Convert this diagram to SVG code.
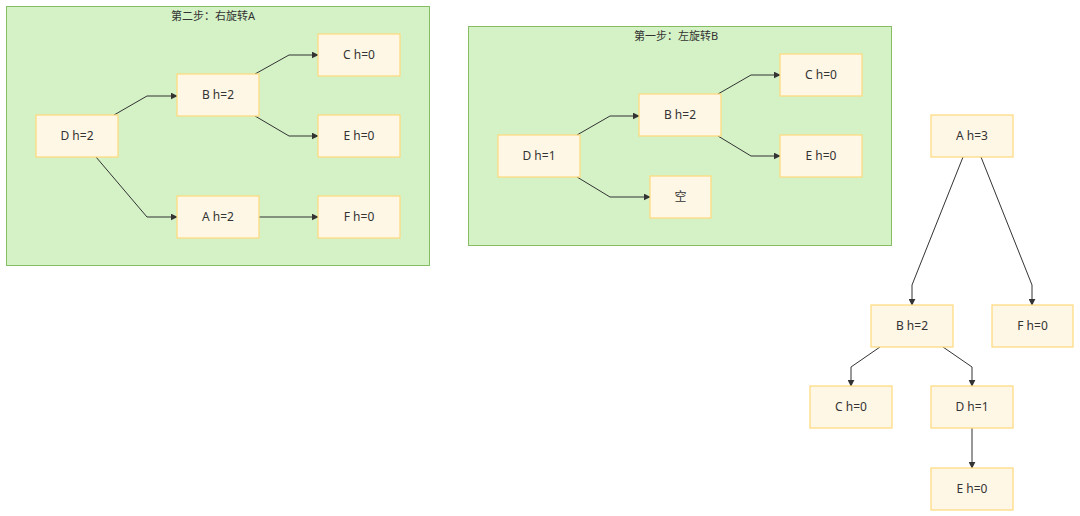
<svg xmlns="http://www.w3.org/2000/svg" width="1080" height="516" viewBox="0 0 1080 516">
<style>
.cl{fill:#d4f2c6;stroke:#86bd63;stroke-width:1}
.nd rect{fill:#fff7e6;stroke:#ffd97a;stroke-width:1.2}
text{font-family:"Noto Sans","Noto Sans CJK SC",sans-serif;fill:#333;text-anchor:middle}
.nd text{font-size:12px}
.tt{font-size:11px}
.e{fill:none;stroke:#333;stroke-width:1;marker-end:url(#ar)}
</style>
<defs>
<marker id="ar" viewBox="0 0 10 10" refX="9" refY="5" markerWidth="7" markerHeight="7" orient="auto" markerUnits="userSpaceOnUse">
<path d="M0,0 L10,5 L0,10 z" fill="#333"/>
</marker>
</defs>
<rect width="1080" height="516" fill="#fff"/>
<g id="cluster2">
<rect class="cl" x="6.5" y="6.5" width="423" height="259"/>
<text class="tt" x="213" y="20">第二步：右旋转A</text>
</g>
<g id="cluster1">
<rect class="cl" x="468.5" y="26.5" width="423" height="219"/>
<text class="tt" x="676" y="40">第一步：左旋转B</text>
</g>
<g id="edges">
<path class="e" d="M114,115 L147,96 L177,96"/>
<path class="e" d="M255,74 L289,55 L318,55"/>
<path class="e" d="M255,116 L289,136 L318,136"/>
<path class="e" d="M96,157 L147,217 L177,217"/>
<path class="e" d="M259,217 L318,217"/>
<path class="e" d="M577,135 L610,116 L639,116"/>
<path class="e" d="M718,94 L751,75 L780,75"/>
<path class="e" d="M718,136 L751,156 L780,156"/>
<path class="e" d="M577,177 L610,197 L650,197"/>
<path class="e" d="M963,157 L912,285 L912,305"/>
<path class="e" d="M981,157 L1032,285 L1032,305"/>
<path class="e" d="M880,347 L851,367 L851,386"/>
<path class="e" d="M943,347 L972,367 L972,386"/>
<path class="e" d="M972,428 L972,468"/>
</g>
<g id="s2_D" class="nd"><rect x="36" y="115" width="82" height="42"/><text x="77" y="140">D h=2</text></g>
<g id="s2_B" class="nd"><rect x="177" y="74" width="82" height="42"/><text x="218" y="99">B h=2</text></g>
<g id="s2_C" class="nd"><rect x="318" y="34" width="82" height="42"/><text x="359" y="59">C h=0</text></g>
<g id="s2_E" class="nd"><rect x="318" y="115" width="82" height="42"/><text x="359" y="140">E h=0</text></g>
<g id="s2_A" class="nd"><rect x="177" y="196" width="82" height="42"/><text x="218" y="221">A h=2</text></g>
<g id="s2_F" class="nd"><rect x="318" y="196" width="82" height="42"/><text x="359" y="221">F h=0</text></g>
<g id="s1_D" class="nd"><rect x="498" y="135" width="82" height="42"/><text x="539" y="160">D h=1</text></g>
<g id="s1_B" class="nd"><rect x="639" y="94" width="82" height="42"/><text x="680" y="119">B h=2</text></g>
<g id="s1_C" class="nd"><rect x="780" y="54" width="82" height="42"/><text x="821" y="79">C h=0</text></g>
<g id="s1_E" class="nd"><rect x="780" y="135" width="82" height="42"/><text x="821" y="160">E h=0</text></g>
<g id="s1_null" class="nd"><rect x="650" y="176" width="61" height="42"/><text x="680.5" y="201">空</text></g>
<g id="A" class="nd"><rect x="931" y="115" width="82" height="42"/><text x="972" y="140">A h=3</text></g>
<g id="B" class="nd"><rect x="871" y="305" width="82" height="42"/><text x="912" y="330">B h=2</text></g>
<g id="F" class="nd"><rect x="992" y="305" width="81" height="42"/><text x="1032.5" y="330">F h=0</text></g>
<g id="C" class="nd"><rect x="810" y="386" width="82" height="42"/><text x="851" y="411">C h=0</text></g>
<g id="D" class="nd"><rect x="931" y="386" width="82" height="42"/><text x="972" y="411">D h=1</text></g>
<g id="E" class="nd"><rect x="931" y="468" width="82" height="42"/><text x="972" y="493">E h=0</text></g>
</svg>
